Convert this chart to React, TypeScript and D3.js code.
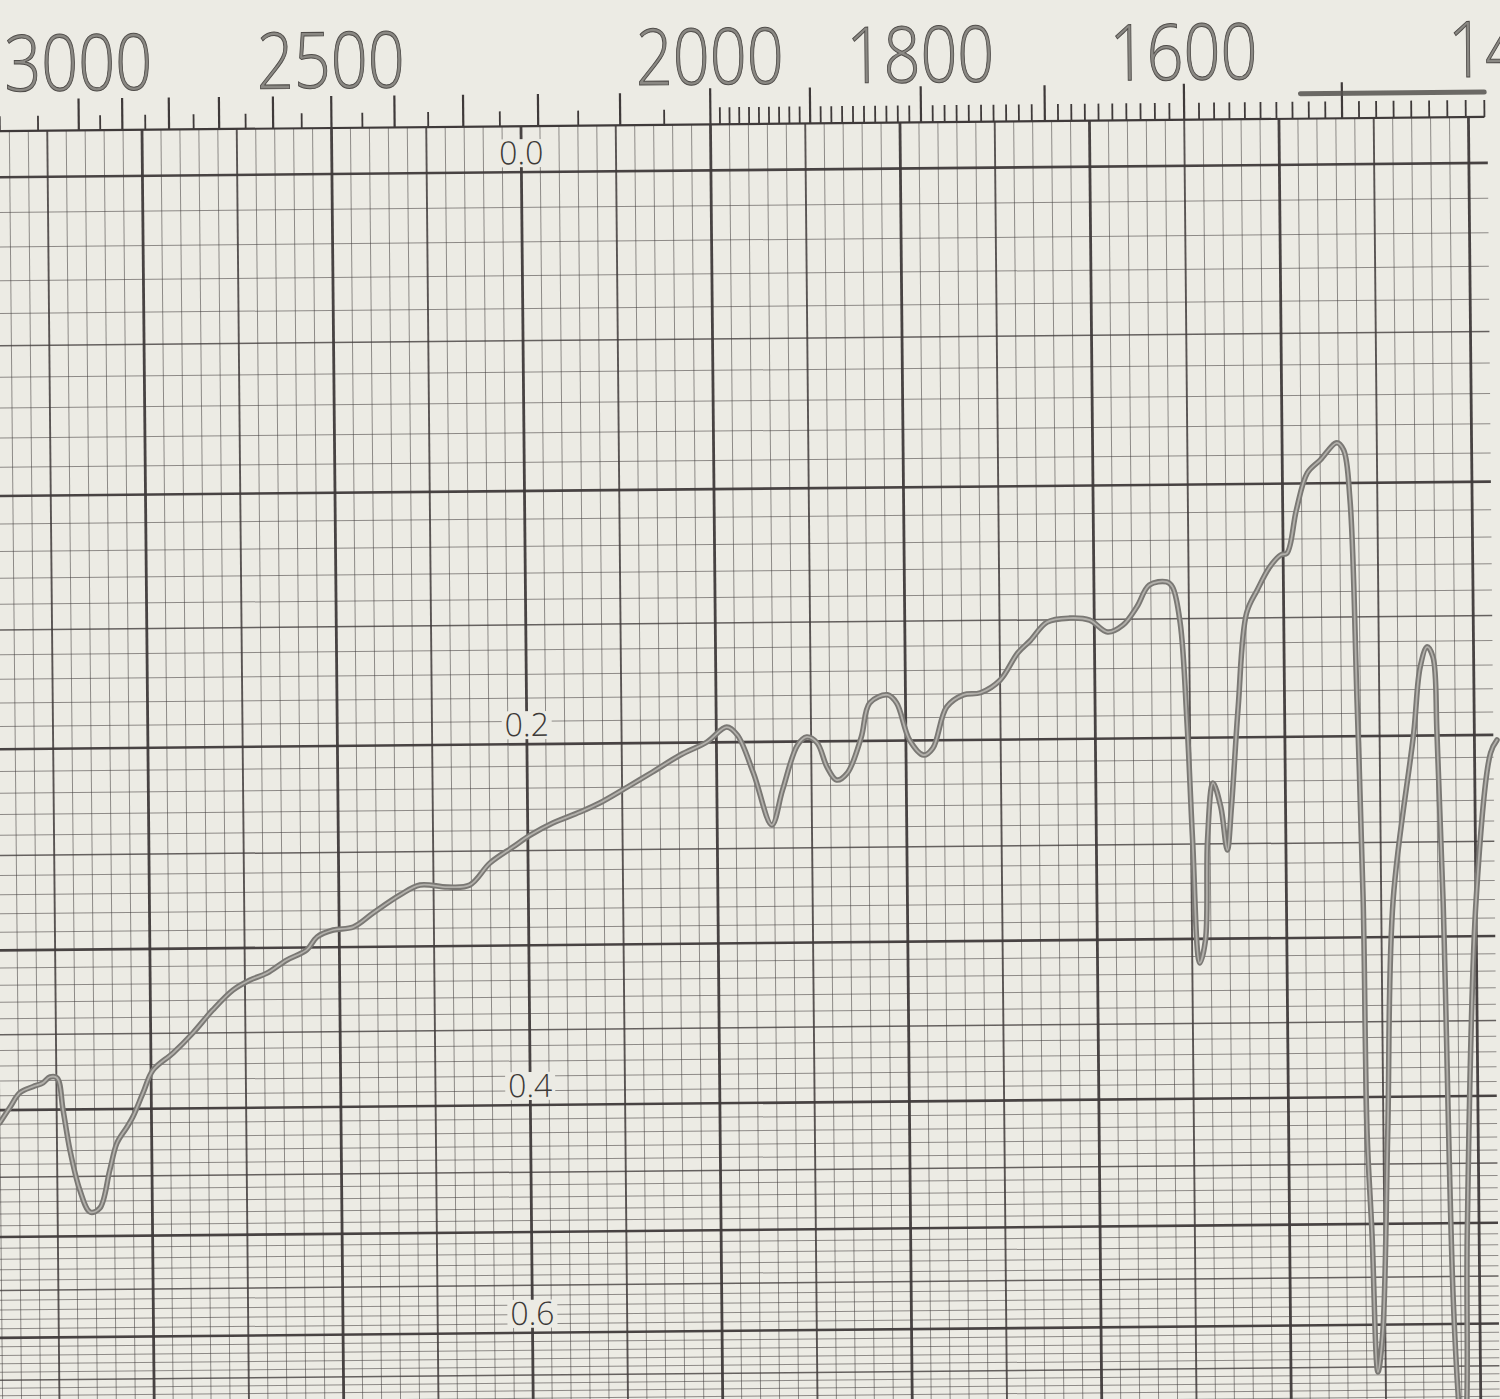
import * as d3 from "d3";

// IR absorption trace (wavenumber in cm-1, absorbance)
const spectrumWavenumber = [
  3226, 3198, 3171, 3137, 3111, 3093, 3075, 3061, 3045, 3022, 2998, 2975, 2951, 2934, 2911, 2898, 2875, 2853,
  2810, 2769, 2729, 2689, 2657, 2626, 2590, 2555, 2537, 2510, 2477, 2445, 2403, 2373, 2333, 2301, 2273, 2242,
  2219, 2190, 2156, 2132, 2099, 2070, 2039, 2010, 1989, 1978, 1962, 1944, 1933, 1918, 1909, 1899, 1890, 1881,
  1871, 1858, 1850, 1834, 1826, 1815, 1803, 1795, 1783, 1769, 1755, 1739, 1725, 1715, 1702, 1685, 1670, 1657,
  1646, 1636, 1627, 1615, 1611, 1606, 1602, 1599, 1595, 1591, 1589, 1585, 1580, 1576, 1573, 1568, 1562, 1555,
  1547, 1540, 1536, 1530, 1523, 1515, 1505, 1501, 1497.5, 1494.5, 1492, 1491, 1488.7, 1486, 1483, 1479, 1474.6,
  1462, 1458, 1454, 1450.8, 1449, 1446.5, 1443, 1440, 1438.8, 1436.6, 1435, 1428.5, 1420, 1416.5,
];
const spectrumAbsorbance = [
  0.409, 0.398, 0.388, 0.384, 0.3815, 0.3776, 0.3783, 0.4003, 0.4296, 0.4608, 0.4791, 0.4759, 0.4452, 0.4246,
  0.4129, 0.4058, 0.389, 0.3737, 0.3626, 0.35, 0.3359, 0.324, 0.3183, 0.3144, 0.307, 0.3014, 0.2942, 0.2905,
  0.289, 0.2815, 0.2721, 0.267, 0.2682, 0.2672, 0.2561, 0.2482, 0.2424, 0.2366, 0.2315, 0.2273, 0.2199, 0.2131,
  0.2055, 0.1998, 0.1933, 0.1969, 0.214, 0.2386, 0.222, 0.2016, 0.198, 0.2007, 0.2115, 0.2176, 0.2144, 0.1984,
  0.1835, 0.1801, 0.1836, 0.1998, 0.2066, 0.2035, 0.1855, 0.1804, 0.1796, 0.1743, 0.1632, 0.1582, 0.1509,
  0.1494, 0.1503, 0.1551, 0.1524, 0.1453, 0.1368, 0.1357, 0.1377, 0.1517, 0.1935, 0.248, 0.3137, 0.3007, 0.248,
  0.2206, 0.232, 0.2531, 0.232, 0.1867, 0.1481, 0.1391, 0.1304, 0.1259, 0.1252, 0.1095, 0.0963, 0.0918, 0.086,
  0.0885, 0.106, 0.1842, 0.2797, 0.4261, 0.5082, 0.6563, 0.6095, 0.4262, 0.2798, 0.1989, 0.1706, 0.1623,
  0.1665, 0.1989, 0.2801, 0.5741, 0.723, 0.762, 0.723, 0.509, 0.2803, 0.2081, 0.2023,
];

const wavenumberLabels = [3000, 2500, 2000, 1800, 1600, 1400];
const absorbanceLabels = ["0.0", "0.2", "0.4", "0.6"];
const penMarkRange = [1525, 1420];

const PAPER = "#ecebe4";
const INK = "#3f3a3a";

export default function App() {
  const width = 1500;
  const height = 1399;

  // chart paper is linear in wavelength (um) and in transmittance
  const xScale = d3.scaleLinear().domain([5, 7]).range([716, 1474]);
  const yScale = d3.scaleLinear().domain([1, 0]).range([170, 1720]);
  const xOf = (nu: number) => xScale(10000 / nu);
  const yOf = (a: number) => yScale(Math.pow(10, -a));

  const axisY = 124;
  const gridRight = xScale(7.05);
  const gridBottom = 1430;

  const microns = d3.range(60, 141).map((i) => i * 0.05);
  const absorb = d3.range(0, 80).map((i) => i / 100);

  const ticks: { nu: number; len: number }[] = [];
  [3200, 3100].forEach((nu) => ticks.push({ nu, len: 15 }));
  for (let nu = 3000; nu >= 2050; nu -= 50) ticks.push({ nu, len: nu % 100 === 0 ? 32 : 15 });
  for (let nu = 2000; nu >= 1420; nu -= 10) ticks.push({ nu, len: nu % 100 === 0 ? 36 : 17 });

  const indices = d3.range(spectrumWavenumber.length);
  const line = d3
    .line<number>()
    .x((i) => xOf(spectrumWavenumber[i]))
    .y((i) => yOf(spectrumAbsorbance[i]))
    .curve(d3.curveCatmullRom.alpha(0.5));
  const tracePath = line(indices) ?? "";

  const labelX = xScale(4.5);

  return (
    <svg
      width={width}
      height={height}
      style={{ position: "absolute", left: 0, top: 0, background: PAPER }}
    >
      <rect width={width} height={height} fill={PAPER} />
      <g transform="rotate(-0.55, 750, 700)">
        {/* horizontal rulings: 0.01 absorbance, heavier every 0.05 / 0.1 */}
        {absorb.map((a) => {
          const k = Math.round(a * 100);
          const bold = k % 10 === 0;
          const mid = !bold && k % 5 === 0;
          return (
            <line
              key={`h-${k}`}
              x1={-30}
              x2={gridRight}
              y1={yOf(a)}
              y2={yOf(a)}
              stroke={INK}
              strokeWidth={bold ? 2.6 : mid ? 1.5 : 1}
              strokeOpacity={bold ? 0.95 : mid ? 0.78 : 0.55}
            />
          );
        })}
        {/* vertical rulings: 0.05 um, heavier every 0.25 / 0.5 */}
        {microns.map((m) => {
          const k = Math.round(m * 100);
          const bold = k % 50 === 0;
          const mid = !bold && k % 25 === 0;
          return (
            <line
              key={`v-${k}`}
              x1={xScale(m)}
              x2={xScale(m)}
              y1={axisY}
              y2={gridBottom}
              stroke={INK}
              strokeWidth={bold ? 2.8 : mid ? 1.9 : 1}
              strokeOpacity={bold ? 0.95 : mid ? 0.85 : 0.55}
            />
          );
        })}

        {/* wavenumber axis */}
        <line x1={-30} x2={xOf(1420)} y1={axisY} y2={axisY} stroke={INK} strokeWidth={2.2} />
        {ticks.map((t) => (
          <line
            key={`t-${t.nu}`}
            x1={xOf(t.nu)}
            x2={xOf(t.nu)}
            y1={axisY}
            y2={axisY - t.len}
            stroke={INK}
            strokeWidth={t.len > 20 ? 2.2 : 1.8}
          />
        ))}
        <line
          x1={xOf(penMarkRange[0])}
          x2={xOf(penMarkRange[1])}
          y1={99}
          y2={99}
          stroke="#55524f"
          strokeWidth={5}
          strokeLinecap="round"
          strokeOpacity={0.85}
        />
        {wavenumberLabels.map((nu) => (
          <text
            key={`wl-${nu}`}
            x={xOf(nu)}
            y={84}
            textAnchor="middle"
            textLength={148}
            lengthAdjust="spacingAndGlyphs"
            fontFamily="'Open Sans', 'DejaVu Sans', sans-serif"
            fontWeight={300}
            fontSize={78}
            fill="#8a8883"
            stroke="#4f4c49"
            strokeWidth={1}
          >
            {nu}
          </text>
        ))}

        {/* absorbance labels on the 4.5 um line */}
        {absorbanceLabels.map((s) => {
          const y = yOf(Number(s));
          return (
            <g key={`al-${s}`}>
              <rect x={labelX - 25} y={y - 33} width={50} height={28} fill={PAPER} />
              <text
                x={labelX}
                y={y - 8}
                textAnchor="middle"
                fontFamily="'Open Sans', 'DejaVu Sans', sans-serif"
                fontWeight={300}
                fontSize={32}
                fill="#3d3a38"
              >
                {s}
              </text>
            </g>
          );
        })}

        {/* recorder trace */}
        <path
          d={tracePath}
          fill="none"
          stroke="#7a7874"
          strokeWidth={5.5}
          strokeLinejoin="round"
          strokeLinecap="round"
        />
        <path
          d={tracePath}
          fill="none"
          stroke="#b2b0ab"
          strokeWidth={1.8}
          strokeLinejoin="round"
          strokeLinecap="round"
        />
      </g>
    </svg>
  );
}
